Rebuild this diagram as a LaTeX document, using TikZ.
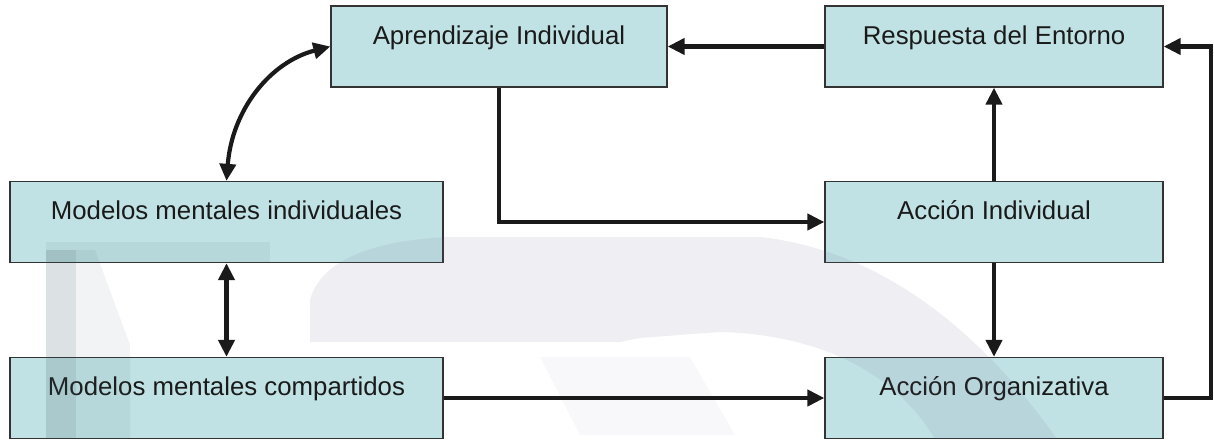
\documentclass[tikz,border=0pt]{standalone}
\usepackage{fontspec}
\setmainfont{Liberation Sans}
\usetikzlibrary{arrows.meta}
\definecolor{boxfill}{RGB}{193,226,228}
\definecolor{boxline}{RGB}{51,51,51}
\definecolor{ink}{RGB}{26,26,26}
\definecolor{tintA}{RGB}{60,90,100}
\definecolor{tintB}{RGB}{100,100,140}
\tikzset{
  box/.style={draw=boxline, line width=1.3pt, fill=boxfill, text=ink,
    inner xsep=0pt, inner ysep=0pt, text height=38pt, text depth=43pt,
    minimum height=81pt, font=\fontsize{25.8pt}{30pt}\selectfont},
  wide/.style={minimum width=433pt},
  mid/.style={minimum width=336pt},
  side/.style={minimum width=338pt},
  tip/.tip={Triangle[length=17pt,width=16pt]},
  conn/.style={draw=ink, line width=4.2pt, -tip},
  both/.style={draw=ink, line width=4.2pt, tip-tip},
  wm/.style={fill=#1, draw=none}
}
\begin{document}
\begin{tikzpicture}[x=1pt,y=-1pt]
\useasboundingbox (0,0) rectangle (1214,439);
% boxes
\node[box,mid]  (ai) at (499,46.5)   {Aprendizaje Individual};
\node[box,side] (re) at (994,46.5)   {Respuesta del Entorno};
\node[box,wide] (mi) at (226.5,222)  {Modelos mentales individuales};
\node[box,side] (ac) at (994,222)    {Acción Individual};
\node[box,wide] (mc) at (226.5,398)  {Modelos mentales compartidos};
\node[box,side] (ao) at (994,398)    {Acción Organizativa};
% faint watermark
\begin{scope}[fill opacity=0.18]
  \fill[tintA] (46,250) rectangle (76,439);
\end{scope}
\begin{scope}[fill opacity=0.07]
  \fill[tintA] (76,250) -- (95,250) -- (130,345) -- (130,439) -- (76,439) -- cycle;
  \fill[tintA] (46,242) rectangle (270,262);
\end{scope}
\begin{scope}[fill opacity=0.1]
  \fill[tintB] (310,342) -- (310,300) .. controls (320,262) and (370,240) .. (450,237)
    -- (760,237) .. controls (880,250) and (980,330) .. (1057,439)
    -- (935,439) .. controls (900,380) and (830,335) .. (720,332)
    -- (640,338) -- (620,342) -- cycle;
\end{scope}
\begin{scope}[fill opacity=0.045]
  \fill[tintB] (540,357) -- (690,357) -- (735,435) -- (580,435) -- cycle;
\end{scope}
% connectors
\draw[conn] (re.west) -- (ai.east);
\draw[conn] (ai.south) |- (ac.west);
\draw[conn] (ac.north) -- (re.south);
\draw[conn] (ac.south) -- (ao.north);
\draw[conn] (mc.east) -- (ao.west);
\coordinate (rc) at ([xshift=47pt]ao.east);
\draw[conn] (ao.east) -- (rc) |- (re.east);
\draw[both] (mi.south) -- (mc.north);
\draw[both] (mi.north) .. controls (232,110) and (270,62) .. (ai.west);
\end{tikzpicture}
\end{document}
